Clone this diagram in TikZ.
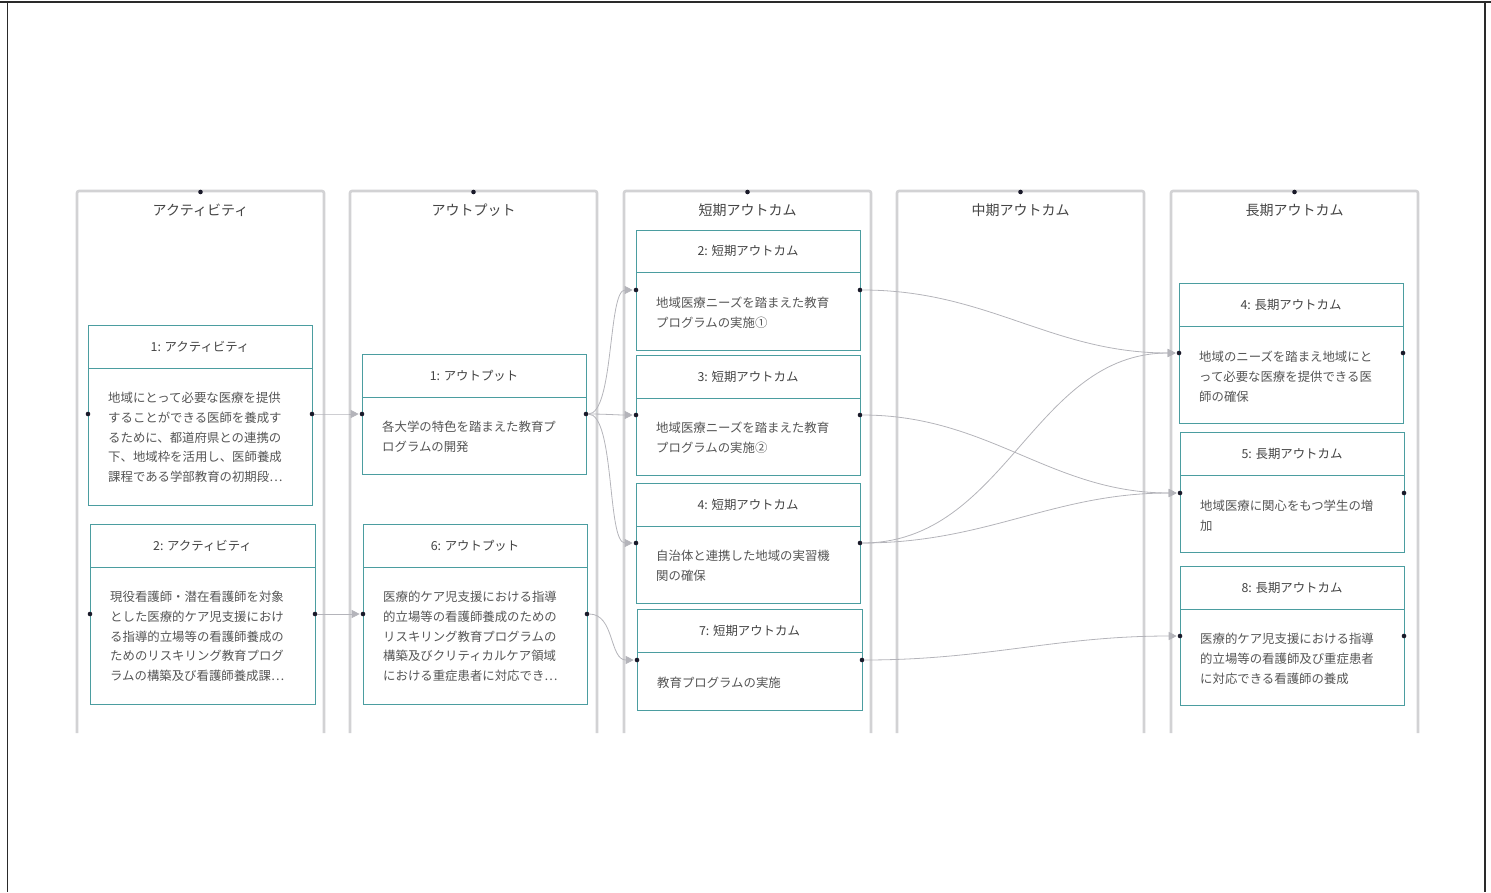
\documentclass[tikz,border=0pt]{standalone}
\usepackage{fontspec}
\setmainfont{Noto Sans CJK JP}
\usepackage{tikz}
\usetikzlibrary{arrows.meta}
\definecolor{lanecol}{HTML}{D2D2D4}
\definecolor{cardcol}{HTML}{4B9DA0}
\definecolor{textcol}{HTML}{555555}
\definecolor{titlecol}{HTML}{444444}
\definecolor{dotcol}{HTML}{1A1A2A}
\definecolor{linkcol}{HTML}{B4B4BA}
\definecolor{framecol}{HTML}{2A2A2A}
\tikzset{
    point/.style={circle,fill=dotcol,minimum size=4.6pt,inner sep=0pt,outer sep=0pt},
    lane/.style={draw=lanecol,line width=2.6pt,rounded corners=2pt},
    lanetitle/.style={inner sep=0pt,text=titlecol,font=\fontsize{14}{16}\selectfont},
    card/.style={draw=cardcol,line width=0.9pt,fill=white,anchor=north west,inner sep=0pt},
    cardline/.style={draw=cardcol,line width=0.9pt},
    cardtitle/.style={inner sep=0pt,text=titlecol,font=\fontsize{12.4}{14}\selectfont},
    cardtext/.style={anchor=north west,align=left,inner sep=0pt,yshift=-6pt,text=textcol,font=\fontsize{12.4}{19.7}\selectfont},
    link/.style={draw=linkcol,line width=0.8pt,-{Triangle[length=8pt,width=8pt]},shorten >=1pt},
    frame/.style={draw=framecol,line width=1.5pt}
}

\begin{document}
\begin{tikzpicture}[x=1pt,y=-1pt]
    \useasboundingbox (0,0) rectangle (1491,892);
    % outer frame
    \draw[frame] (0,2) -- (1491,2);
    \draw[frame] (7.5,2) -- (7.5,892);
    \draw[frame] (1485,2) -- (1485,892);

    % lanes
    \foreach \x/\ttl [count=\i] in {77/アクティビティ,350/アウトプット,624/短期アウトカム,897/中期アウトカム,1171/長期アウトカム}{
        \draw[lane] (\x,733) -- (\x,191) -- (\x+247,191) -- (\x+247,733);
        \node[lanetitle] (lane\i) at (\x+123.5,210) {\ttl};
        \node[point] (top\i) at (\x+123.5,192) {};
    }

    % activities
    \node[card,minimum width=224pt,minimum height=180pt] (a1) at (88,325) {};
    \draw[cardline] (88,368) -- (312,368);
    \node[cardtitle] (a1t) at (200,346.5) {1: アクティビティ};
    \node[cardtext] (a1x) at (108,386) {地域にとって必要な医療を提供\\することができる医師を養成す\\るために、都道府県との連携の\\下、地域枠を活用し、医師養成\\課程である学部教育の初期段⋯};
    \node[point] (a1l) at (88,414) {};
    \node[point] (a1r) at (312,414) {};

    \node[card,minimum width=225pt,minimum height=180pt] (a2) at (90,524) {};
    \draw[cardline] (90,567) -- (315,567);
    \node[cardtitle] (a2t) at (202.5,545.5) {2: アクティビティ};
    \node[cardtext] (a2x) at (110,585) {現役看護師・潜在看護師を対象\\とした医療的ケア児支援におけ\\る指導的立場等の看護師養成の\\ためのリスキリング教育プログ\\ラムの構築及び看護師養成課⋯};
    \node[point] (a2l) at (90,614) {};
    \node[point] (a2r) at (315,614) {};

    % outputs
    \node[card,minimum width=224pt,minimum height=120pt] (o1) at (362,354) {};
    \draw[cardline] (362,397) -- (586,397);
    \node[cardtitle] (o1t) at (474,375.5) {1: アウトプット};
    \node[cardtext] (o1x) at (382,415) {各大学の特色を踏まえた教育プ\\ログラムの開発};
    \node[point] (o1l) at (362,414) {};
    \node[point] (o1r) at (586,414) {};

    \node[card,minimum width=224pt,minimum height=180pt] (o6) at (363,524) {};
    \draw[cardline] (363,567) -- (587,567);
    \node[cardtitle] (o6t) at (475,545.5) {6: アウトプット};
    \node[cardtext] (o6x) at (383,585) {医療的ケア児支援における指導\\的立場等の看護師養成のための\\リスキリング教育プログラムの\\構築及びクリティカルケア領域\\における重症患者に対応でき⋯};
    \node[point] (o6l) at (363,614) {};
    \node[point] (o6r) at (587,614) {};

    % short term outcomes
    \node[card,minimum width=224pt,minimum height=120pt] (s2) at (636,230) {};
    \draw[cardline] (636,272) -- (860,272);
    \node[cardtitle] (s2t) at (748,251) {2: 短期アウトカム};
    \node[cardtext] (s2x) at (656,291) {地域医療ニーズを踏まえた教育\\プログラムの実施①};
    \node[point] (s2l) at (636,290) {};
    \node[point] (s2r) at (860,290) {};

    \node[card,minimum width=224pt,minimum height=120pt] (s3) at (636,355) {};
    \draw[cardline] (636,398) -- (860,398);
    \node[cardtitle] (s3t) at (748,376.5) {3: 短期アウトカム};
    \node[cardtext] (s3x) at (656,416) {地域医療ニーズを踏まえた教育\\プログラムの実施②};
    \node[point] (s3l) at (636,415) {};
    \node[point] (s3r) at (860,415) {};

    \node[card,minimum width=224pt,minimum height=120pt] (s4) at (636,483) {};
    \draw[cardline] (636,526) -- (860,526);
    \node[cardtitle] (s4t) at (748,504.5) {4: 短期アウトカム};
    \node[cardtext] (s4x) at (656,544) {自治体と連携した地域の実習機\\関の確保};
    \node[point] (s4l) at (636,543) {};
    \node[point] (s4r) at (860,543) {};

    \node[card,minimum width=225pt,minimum height=101pt] (s7) at (637,609) {};
    \draw[cardline] (637,652) -- (862,652);
    \node[cardtitle] (s7t) at (749.5,630.5) {7: 短期アウトカム};
    \node[cardtext] (s7x) at (657,671) {教育プログラムの実施};
    \node[point] (s7l) at (637,660) {};
    \node[point] (s7r) at (862,660) {};

    % long term outcomes
    \node[card,minimum width=224pt,minimum height=140pt] (l4) at (1179,283) {};
    \draw[cardline] (1179,326) -- (1403,326);
    \node[cardtitle] (l4t) at (1291,304.5) {4: 長期アウトカム};
    \node[cardtext] (l4x) at (1199,345) {地域のニーズを踏まえ地域にと\\って必要な医療を提供できる医\\師の確保};
    \node[point] (l4l) at (1179,353) {};
    \node[point] (l4r) at (1403,353) {};

    \node[card,minimum width=224pt,minimum height=120pt] (l5) at (1180,432) {};
    \draw[cardline] (1180,475) -- (1404,475);
    \node[cardtitle] (l5t) at (1292,453.5) {5: 長期アウトカム};
    \node[cardtext] (l5x) at (1200,494) {地域医療に関心をもつ学生の増\\加};
    \node[point] (l5l) at (1180,493) {};
    \node[point] (l5r) at (1404,493) {};

    \node[card,minimum width=224pt,minimum height=139pt] (l8) at (1180,566) {};
    \draw[cardline] (1180,609) -- (1404,609);
    \node[cardtitle] (l8t) at (1292,587.5) {8: 長期アウトカム};
    \node[cardtext] (l8x) at (1200,627) {医療的ケア児支援における指導\\的立場等の看護師及び重症患者\\に対応できる看護師の養成};
    \node[point] (l8l) at (1180,636) {};
    \node[point] (l8r) at (1404,636) {};

    % links
    \draw[link] (a1r) to[out=0,in=180] (o1l);
    \draw[link] (a2r) to[out=0,in=180] (o6l);
    \draw[link] (o1r) to[out=0,in=180,looseness=0.5] (s2l);
    \draw[link] (o1r) to[out=0,in=180] (s3l);
    \draw[link] (o1r) to[out=0,in=180,looseness=0.5] (s4l);
    \draw[link] (o6r) to[out=0,in=180] (s7l);
    \draw[link] (s2r) to[out=0,in=180] (l4l);
    \draw[link] (s3r) to[out=0,in=180] (l5l);
    \draw[link] (s4r) to[out=0,in=180] (l4l);
    \draw[link] (s4r) to[out=0,in=180] (l5l);
    \draw[link] (s7r) to[out=0,in=180] (l8l);
\end{tikzpicture}
\end{document}
